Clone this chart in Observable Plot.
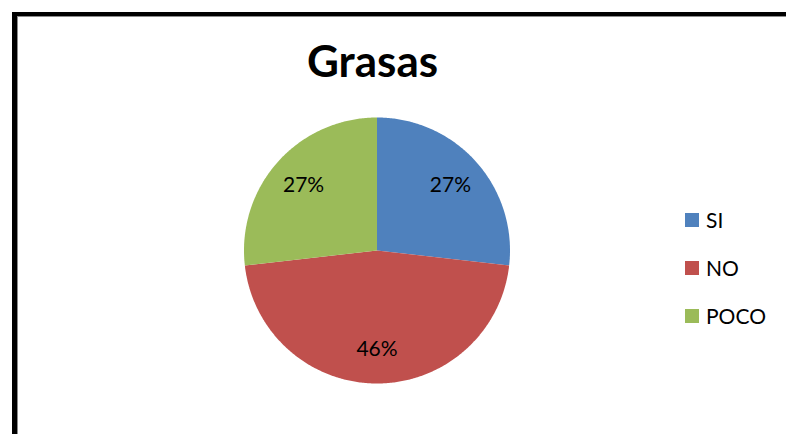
<!DOCTYPE html>
<html>
<head>
<meta charset="utf-8">
<script src="https://cdn.jsdelivr.net/npm/d3@7"></script>
<script src="https://cdn.jsdelivr.net/npm/@observablehq/plot@0.6"></script>
<style>
  html, body { margin: 0; padding: 0; background: #fff; }
  #wrap { position: relative; width: 786px; height: 434px; overflow: hidden; font-family: Lato, "Open Sans", sans-serif; }
  #frame { position: absolute; left: 12px; top: 12px; width: 900px; height: 600px;
           border-left: 5px solid #000; border-top: 4px solid #000; box-shadow: inset 1px 1px 0 #8c8c8c; box-sizing: border-box; }
  #chart { position: absolute; left: 0; top: 0; }
  #legend { position: absolute; left: 685px; top: 195.5px; }
  .row { display: flex; align-items: center; height: 48.3px; font-size: 21px; line-height: 48.3px; color: #000; }
  .sw { width: 14px; height: 14px; margin-right: 7px; }
</style>
</head>
<body>
<div id="wrap">
  <div id="frame"></div>
  <div id="chart"></div>
  <div id="legend"></div>
</div>
<script>
const title = "Grasas";
const categories = ["SI", "NO", "POCO"];
const values = [26.8, 46.4, 26.8];
const colors = ["#4F81BD", "#C0504D", "#9BBB59"];

const total = d3.sum(values);
const arcs = d3.pie().sort(null).value(d => d)(values);

// polygon outline of each slice (centre, arc, centre), derived from pie angles
const slicePts = [];
arcs.forEach((a, i) => {
  const n = Math.max(8, Math.ceil((a.endAngle - a.startAngle) / 0.01));
  slicePts.push({label: categories[i], x: 0, y: 0});
  for (let k = 0; k <= n; k++) {
    const t = a.startAngle + (a.endAngle - a.startAngle) * k / n;
    slicePts.push({label: categories[i], x: Math.sin(t), y: Math.cos(t)});
  }
  slicePts.push({label: categories[i], x: 0, y: 0});
});

const labelPts = arcs.map((a, i) => {
  const m = (a.startAngle + a.endAngle) / 2;
  return {label: categories[i], text: Math.round(values[i] / total * 100) + "%", x: 0.74 * Math.sin(m), y: 0.74 * Math.cos(m)};
});

const plot = Plot.plot({
  width: 786,
  height: 434,
  margin: 0,
  style: {background: "transparent", overflow: "visible"},
  x: {domain: [-1, 1], range: [243.5, 509.5], axis: null},
  y: {domain: [-1, 1], range: [383, 117], axis: null},
  color: {domain: categories, range: colors},
  marks: [
    Plot.line(slicePts, {x: "x", y: "y", z: "label", fill: "label", stroke: "none", curve: "linear"}),
    Plot.text(labelPts, {x: "x", y: "y", text: "text", fill: "#000", fontSize: 21, fontFamily: "Lato", textAnchor: "middle", lineAnchor: "middle"}),
    Plot.text([title], {text: d => d, frameAnchor: "top-left", dx: 372, dy: 76, textAnchor: "middle", lineAnchor: "bottom",
      fontSize: 44, fontWeight: "bold", fontFamily: "Lato", fill: "#000"})
  ]
});
document.getElementById("chart").appendChild(plot);

const color = plot.scale("color");
const leg = document.getElementById("legend");
categories.forEach(c => {
  const row = document.createElement("div");
  row.className = "row";
  const sw = document.createElement("div");
  sw.className = "sw";
  sw.style.background = color.apply(c);
  const lab = document.createElement("span");
  lab.textContent = c;
  row.appendChild(sw);
  row.appendChild(lab);
  leg.appendChild(row);
});
</script>
</body>
</html>
